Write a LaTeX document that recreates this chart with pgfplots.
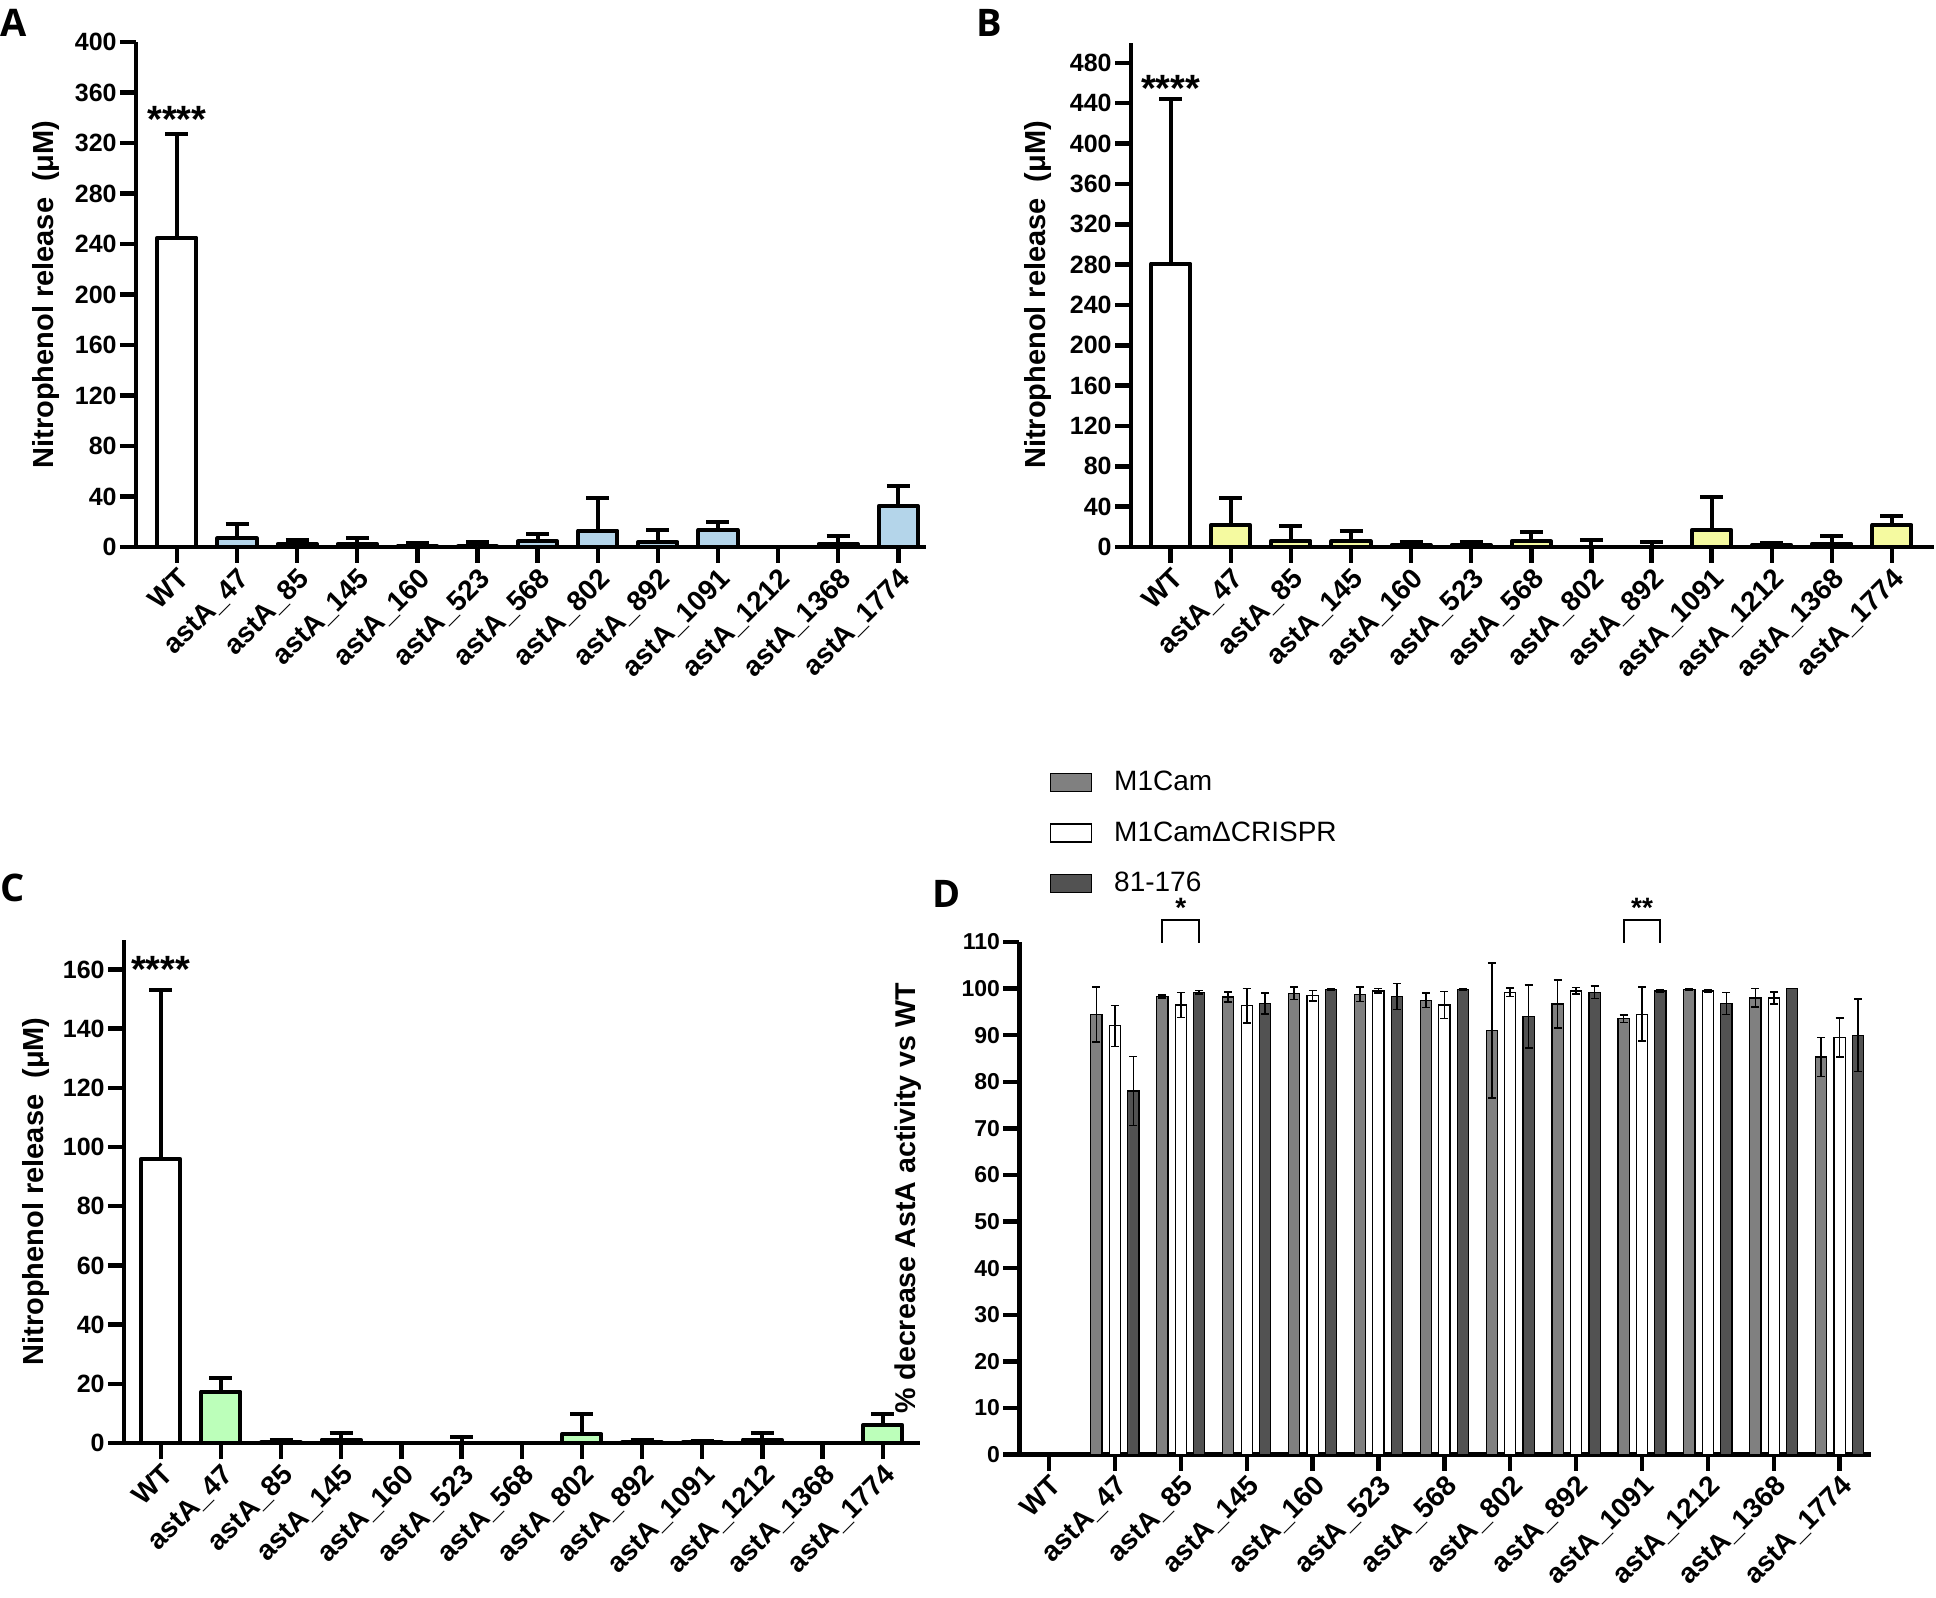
\documentclass[border=0pt]{standalone}
\usepackage{pgfplots}
\usepackage{pgfplotstable}
\pgfplotsset{compat=1.18}
\usepackage{fontspec}
\setmainfont{Liberation Sans}
\newfontfamily\panelfont{Open Sans}
\definecolor{barA}{RGB}{180,213,234}
\definecolor{barB}{RGB}{245,250,160}
\definecolor{barC}{RGB}{188,255,186}
\definecolor{gM}{RGB}{128,128,128}
\definecolor{gD}{RGB}{82,82,82}

% WT rows (white bars)
\pgfplotstableread{
x y e
0 245 82
}\tabAwt
\pgfplotstableread{
x y e
1 7 11.5
2 2.5 3
3 2.5 5
4 1 2.2
5 0.5 3.5
6 4.5 6
7 13 26
8 4 9.5
9 13.6 6
10 0 0
11 2.4 6
12 32.5 15.5
}\tabA

\pgfplotstableread{
x y e
0 281 163
}\tabBwt
\pgfplotstableread{
x y e
1 21.7 27.3
2 6.3 14.4
3 5.7 10
4 2 3.3
5 2 2.5
6 5.7 9
7 0 6.7
8 0 4.7
9 17 33
10 2 2
11 3.3 8
12 21.7 9
}\tabB

\pgfplotstableread{
x y e
0 96 57
}\tabCwt
\pgfplotstableread{
x y e
1 17.4 4.5
2 0.3 0.8
3 1.1 2.3
4 0 0
5 0 2.1
6 0 0
7 3.1 6.7
8 0.3 0.6
9 0.2 0.5
10 1.1 2.3
11 0 0
12 6.1 3.7
}\tabC

\pgfplotstableread{
x m me w we d de
1 94.5 5.9 92.0 4.4 78.0 7.4
2 98.3 0.3 96.5 2.7 99.2 0.4
3 98.2 1.1 96.3 3.7 96.8 2.3
4 99.0 1.3 98.5 1.1 99.8 0.2
5 98.8 1.6 99.5 0.5 98.3 2.8
6 97.5 1.6 96.5 2.9 99.8 0.2
7 91.0 14.5 99.2 0.9 94.0 6.8
8 96.7 5.2 99.5 0.7 99.2 1.3
9 93.5 0.8 94.5 5.8 99.5 0.2
10 99.8 0.2 99.5 0.3 96.8 2.4
11 98.0 2.0 98.0 1.3 100 0
12 85.3 4.2 89.5 4.2 90.0 7.8
}\tabD

\pgfplotsset{
 base/.style={
  scale only axis, anchor=south west,
  axis x line=bottom, axis y line=left,
  axis line style={line width=2.2pt,-},
  tick align=outside, major tick length=8pt,
  tick style={line width=2.2pt, black},
  xtick={0,...,12},
  xticklabels={WT,astA\_47,astA\_85,astA\_145,astA\_160,astA\_523,astA\_568,astA\_802,astA\_892,astA\_1091,astA\_1212,astA\_1368,astA\_1774},
  x tick label style={font=\bfseries\fontsize{14}{14}\selectfont, rotate=45, anchor=north east, inner sep=1pt},
  y tick label style={font=\bfseries\fontsize{12.5}{12.5}\selectfont, inner sep=1.5pt},
  /pgf/number format/assume math mode=true,
  ylabel style={font=\bfseries\fontsize{14.5}{14.5}\selectfont, anchor=center},
  clip=false,
 },
 nb/.style={ybar, bar width=0.65, draw=black, line width=2pt, line join=round,
  error bars/y dir=plus, error bars/y explicit,
  error bars/error bar style={line width=2pt},
  error bars/error mark options={rotate=90, mark size=5.75pt, line width=2pt}},
 db/.style={ybar, bar width=0.17, bar shift=0, draw=black, line width=0.6pt,
  error bars/y dir=both, error bars/y explicit,
  error bars/error bar style={line width=0.8pt},
  error bars/error mark options={rotate=90, mark size=2pt, line width=0.8pt}},
}

\begin{document}
\begin{tikzpicture}
\useasboundingbox (0,0) rectangle (968pt,798.5pt);

% Panel A
\begin{axis}[base, at={(68pt,525pt)}, width=395pt, height=252.5pt,
  xmin=-0.68, xmax=12.46, ymin=0, ymax=400, ytick distance=40,
  ylabel={Nitrophenol release\ \ (μM)},
  ylabel style={at={(axis description cs:-0.114,0.5)}}]
\addplot[fill=white, nb] table[x=x, y=y, y error=e] {\tabAwt};
\addplot[fill=barA, nb] table[x=x, y=y, y error=e] {\tabA};
\node[anchor=base, font=\bfseries\fontsize{19}{19}\selectfont] at (axis cs:0,328) {****};
\end{axis}

% Panel B
\begin{axis}[base, at={(565.5pt,525pt)}, width=401.5pt, height=252.1pt,
  xmin=-0.66, xmax=12.70, ymin=0, ymax=500, ytick={0,40,...,480},
  ylabel={Nitrophenol release\ \ (μM)},
  ylabel style={at={(axis description cs:-0.116,0.5)}}]
\addplot[fill=white, nb] table[x=x, y=y, y error=e] {\tabBwt};
\addplot[fill=barB, nb] table[x=x, y=y, y error=e] {\tabB};
\node[anchor=base, font=\bfseries\fontsize{19}{19}\selectfont] at (axis cs:0,442) {****};
\end{axis}

% Panel C
\begin{axis}[base, at={(62pt,77pt)}, width=398pt, height=251.6pt,
  xmin=-0.61, xmax=12.62, ymin=0, ymax=170, ytick distance=20,
  ylabel={Nitrophenol release\ \ (μM)},
  ylabel style={at={(axis description cs:-0.11,0.5)}}]
\addplot[fill=white, nb] table[x=x, y=y, y error=e] {\tabCwt};
\addplot[fill=barC, nb] table[x=x, y=y, y error=e] {\tabC};
\node[anchor=base, font=\bfseries\fontsize{19}{19}\selectfont] at (axis cs:0,155.5) {****};
\end{axis}

% Panel D
\begin{axis}[base, at={(509.7pt,71.25pt)}, width=425.6pt, height=256.25pt,
  xmin=-0.45, xmax=12.47, ymin=0, ymax=110, ytick distance=10,
  y tick label style={font=\bfseries\fontsize{11.5}{11.5}\selectfont},
  ylabel={\% decrease AstA activity vs WT},
  ylabel style={at={(axis description cs:-0.131,0.5)}, font=\bfseries\fontsize{14.3}{14.3}\selectfont},
  legend style={at={(axis description cs:0.035,1.342)}, anchor=north west, draw=none, fill=none,
    inner sep=0pt, font=\fontsize{14}{14}\selectfont, row sep=10pt,
    /tikz/every even column/.append style={column sep=0pt}},
  legend cell align=left,
  legend image code/.code={\draw[#1,/tikz/.cd,line width=0.8pt] (0pt,-4.5pt) rectangle (20.5pt,4.5pt);}]
\addplot[fill=gM, db] table[x expr=\thisrow{x}-0.28, y=m, y error=me] {\tabD};
\addlegendentry{\hspace{9pt}M1Cam}
\addplot[fill=white, db] table[x=x, y=w, y error=we] {\tabD};
\addlegendentry{\hspace{9pt}M1CamΔCRISPR}
\addplot[fill=gD, db] table[x expr=\thisrow{x}+0.28, y=d, y error=de] {\tabD};
\addlegendentry{\hspace{9pt}81-176}
\draw[line width=1pt] (axis cs:1.72,109.8) |- (axis cs:2.28,114.7) -- (axis cs:2.28,109.8);
\draw[line width=1pt] (axis cs:8.72,109.8) |- (axis cs:9.28,114.7) -- (axis cs:9.28,109.8);
\node[anchor=base, font=\bfseries\fontsize{14}{14}\selectfont] at (axis cs:2,115.3) {*};
\node[anchor=base, font=\bfseries\fontsize{14}{14}\selectfont] at (axis cs:9,115.3) {**};
\end{axis}

\node[anchor=north west, inner sep=0pt, font=\panelfont\bfseries\fontsize{19}{19}\selectfont] at (0pt,794pt) {A};
\node[anchor=north west, inner sep=0pt, font=\panelfont\bfseries\fontsize{19}{19}\selectfont] at (488pt,794pt) {B};
\node[anchor=north west, inner sep=0pt, font=\panelfont\bfseries\fontsize{19}{19}\selectfont] at (0pt,361.5pt) {C};
\node[anchor=north west, inner sep=0pt, font=\panelfont\bfseries\fontsize{19}{19}\selectfont] at (466pt,358.5pt) {D};
\end{tikzpicture}
\end{document}
